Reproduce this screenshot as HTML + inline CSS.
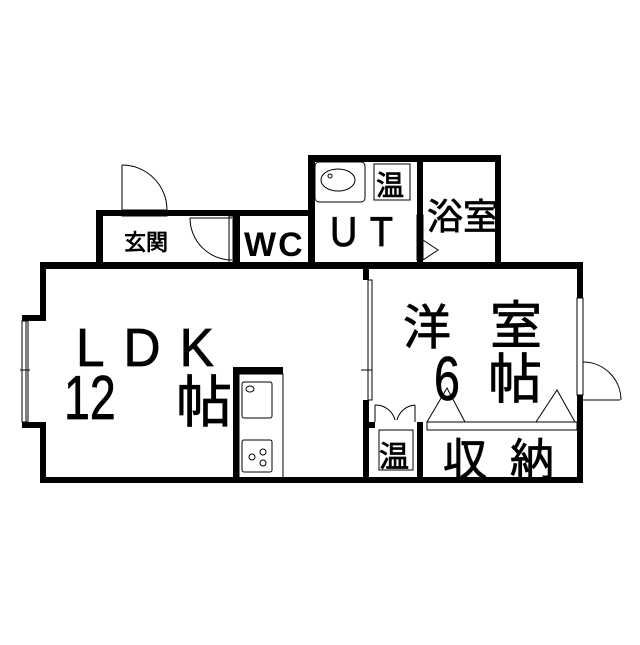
<!DOCTYPE html>
<html><head><meta charset="utf-8"><style>
body{margin:0;background:#fff}
text{font-family:"Liberation Sans","Noto Sans CJK JP",sans-serif;fill:#000}
.b{stroke:#000;stroke-width:0.8}
</style></head><body>
<svg width="640" height="640" viewBox="0 0 640 640" xmlns="http://www.w3.org/2000/svg">
<rect width="640" height="640" fill="#fff"/>
<g fill="#000">
<rect x="96" y="210" width="216" height="6"/>
<rect x="96" y="210" width="7" height="58"/>
<rect x="308" y="155" width="192" height="7"/>
<rect x="308" y="155" width="7" height="110"/>
<rect x="417" y="155" width="6" height="110"/>
<rect x="495" y="155" width="6" height="110"/>
<rect x="233" y="216" width="7" height="50"/>
<rect x="40" y="262" width="543" height="7"/>
<rect x="40" y="262" width="6" height="56"/>
<rect x="40" y="425" width="6" height="58"/>
<rect x="22" y="315" width="24" height="6"/>
<rect x="22" y="422" width="24" height="6"/>
<rect x="40" y="477" width="543" height="6"/>
<rect x="577" y="262" width="6" height="36"/>
<rect x="577" y="395" width="6" height="88"/>
<rect x="363" y="268" width="6" height="12"/>
<rect x="363" y="400" width="6" height="80"/>
<rect x="233" y="367" width="50" height="7"/>
<rect x="233" y="367" width="6" height="113"/>
<rect x="363" y="422" width="12" height="6"/>
<rect x="417" y="422" width="6" height="58"/>
</g>
<g fill="none" stroke="#000" stroke-width="1">
<rect x="22" y="321" width="6" height="101"/><line x1="26" y1="321" x2="26" y2="422"/>
<line x1="20" y1="370" x2="30" y2="370"/>
<rect x="577" y="298" width="6" height="97"/>
<line x1="583" y1="400" x2="620" y2="400"/>
<path d="M583 362 A38 38 0 0 1 621 400"/>
<line x1="122" y1="165" x2="122" y2="210"/>
<path d="M122 165 A45 45 0 0 1 167 210"/>
<rect x="122" y="210" width="45" height="6"/>
<line x1="190" y1="218" x2="232" y2="218"/>
<path d="M190 218 A42 42 0 0 0 232 260"/>
<rect x="229" y="216" width="4" height="48"/>
<rect x="176" y="263" width="88" height="5"/>
<rect x="316" y="263" width="100" height="5"/>
<rect x="315" y="162" width="50" height="40" rx="4"/>
<ellipse cx="338" cy="180" rx="17" ry="11"/>
<circle cx="330" cy="176" r="2"/>
<rect x="374" y="164" width="36" height="36"/>
<rect x="417" y="215" width="6" height="45"/>
<path d="M423 240 L438 250 L423 260"/>
<rect x="368" y="280" width="4" height="120"/>
<line x1="361" y1="370" x2="372" y2="370"/>
<rect x="239" y="374" width="44" height="104"/>
<rect x="242" y="382" width="30" height="36" rx="2"/>
<ellipse cx="250" cy="389" rx="4" ry="3"/>
<rect x="242" y="440" width="30" height="32" rx="2"/>
<circle cx="252" cy="457" r="3"/><circle cx="263" cy="452" r="3"/><circle cx="263" cy="463" r="3"/>
<path d="M375 405 L375 422 M375 405 A20 20 0 0 1 395 420 M415 405 L415 422 M415 405 A20 20 0 0 0 397 420"/>
<rect x="379" y="430" width="34" height="40"/>
<rect x="427" y="422" width="150" height="8"/>
<path d="M427 422 L447 388 L465 422 M536 422 L557 390 L575 422"/>
</g>
<text x="124" y="250" font-size="22" class="b">玄関</text>
<text x="244" y="256" font-size="34" font-weight="bold" letter-spacing="2">WC</text>
<text x="0" y="0" font-size="42" letter-spacing="14" class="b" transform="translate(330 246) scale(0.9 1)">UT</text>
<text x="376" y="195" font-size="28" class="b">温</text>
<text x="427" y="229" font-size="36" class="b">浴室</text>
<text x="0" y="0" font-size="54" letter-spacing="20" class="b" transform="translate(76 366) scale(0.95 1)">LDK</text>
<text x="0" y="0" font-size="62" class="b" transform="translate(64 419) scale(0.75 1)">12</text>
<text x="176" y="422" font-size="56" class="b">帖</text>
<text x="403" y="344" font-size="48" class="b">洋</text>
<text x="490" y="344" font-size="52" class="b">室</text>
<text x="0" y="0" font-size="62" class="b" transform="translate(434 400) scale(0.75 1)">6</text>
<text x="488" y="398" font-size="54" class="b">帖</text>
<text x="379" y="467" font-size="30" class="b">温</text>
<text x="443" y="475" font-size="44" class="b">収</text>
<text x="510" y="475" font-size="44" class="b">納</text>
</svg>
</body></html>
